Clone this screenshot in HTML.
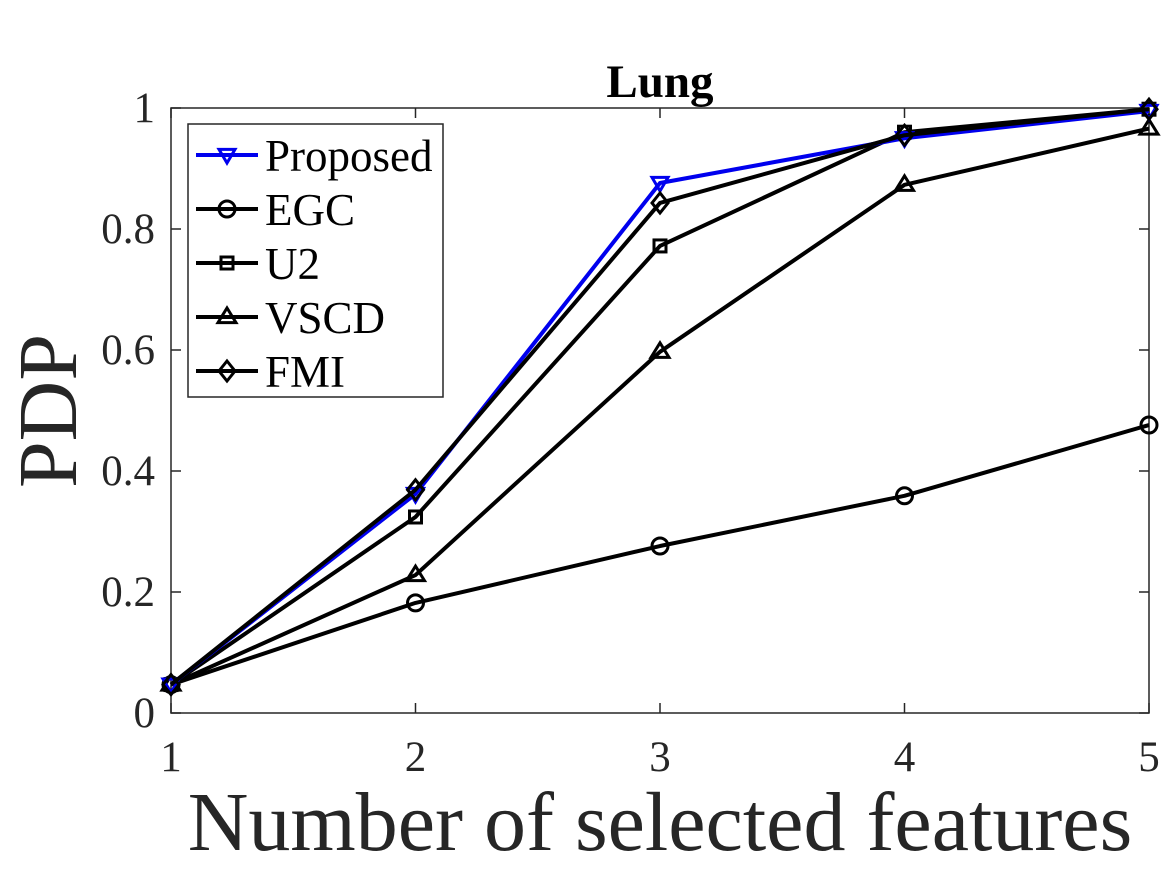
<!DOCTYPE html>
<html><head><meta charset="utf-8"><style>
html,body{margin:0;padding:0;background:#fff;}
svg{display:block;font-family:"Liberation Serif","Times New Roman",serif;}
</style></head><body>
<svg id="chart" width="1167" height="875" viewBox="0 0 1167 875" xmlns="http://www.w3.org/2000/svg">
<rect x="0" y="0" width="1167" height="875" fill="#fff"/>
<g id="axes"></g>
<g id="series"></g>
<g id="legend"></g>
</svg>
<script>
const categories = [1, 2, 3, 4, 5];
const proposed = [0.047, 0.362, 0.876, 0.950, 0.995];
const egc = [0.047, 0.182, 0.276, 0.359, 0.476];
const u2 = [0.047, 0.324, 0.772, 0.960, 0.998];
const vscd = [0.047, 0.228, 0.597, 0.873, 0.966];
const fmi = [0.047, 0.369, 0.843, 0.955, 0.998];
const yTicks = [0, 0.2, 0.4, 0.6, 0.8, 1];
const yTickLabels = ["0", "0.2", "0.4", "0.6", "0.8", "1"];
const xTickLabels = ["1", "2", "3", "4", "5"];
const seriesNames = ["Proposed", "EGC", "U2", "VSCD", "FMI"];

const NS = "http://www.w3.org/2000/svg";
const L = 171, R = 1149, T = 108, B = 713;
function xs(v){ return L + (v - 1) / 4 * (R - L); }
function ys(v){ return B - v * (B - T); }
function mk(tag, attrs, parent){
  const e = document.createElementNS(NS, tag);
  for (const k in attrs) e.setAttribute(k, attrs[k]);
  parent.appendChild(e);
  return e;
}
const axes = document.getElementById('axes');
const box = mk('rect', {x:L, y:T, width:R-L, height:B-T, fill:'none', stroke:'#262626', 'stroke-width':1.5}, axes);



yTicks.forEach((v, i) => {
  const y = ys(v);
  const t1 = mk('line', {x1:L, x2:L+10, y1:y, y2:y, stroke:'#262626', 'stroke-width':1.5}, axes);
  
  
  const t2 = mk('line', {x1:R, x2:R-10, y1:y, y2:y, stroke:'#262626', 'stroke-width':1.5}, axes);
  
  
  const lb = mk('text', {x:L-16, y:y+14, 'text-anchor':'end', 'font-size':43, fill:'#262626'}, axes);
  lb.textContent = yTickLabels[i];
  
  
});
categories.forEach((c, i) => {
  const x = xs(c);
  const t1 = mk('line', {x1:x, x2:x, y1:B, y2:B-10, stroke:'#262626', 'stroke-width':1.5}, axes);
  
  
  const t2 = mk('line', {x1:x, x2:x, y1:T, y2:T+10, stroke:'#262626', 'stroke-width':1.5}, axes);
  
  
  const lb = mk('text', {x:x, y:B+58, 'text-anchor':'middle', 'font-size':43, fill:'#262626'}, axes);
  lb.textContent = xTickLabels[i];
  
  
});
const title = mk('text', {x:(L+R)/2, y:97, 'text-anchor':'middle', 'font-size':47, 'font-weight':'bold', fill:'#000'}, axes);
title.textContent = 'Lung';


const xl = mk('text', {x:(L+R)/2, y:850, 'text-anchor':'middle', 'font-size':84, fill:'#262626'}, axes);
xl.textContent = 'Number of selected features';


const yl = mk('text', {x:0, y:0, 'text-anchor':'middle', 'font-size':84, fill:'#262626', transform:'translate(76,411) rotate(-90)'}, axes);
yl.textContent = 'PDP';



function marker(type, x, y, color, parent){
  const s = 8;
  const common = {fill:'none', stroke:color, 'stroke-width':3};
  let e;
  if (type === 'tri-down') e = mk('polygon', Object.assign({points:`${x-s},${y-s*0.7} ${x+s},${y-s*0.7} ${x},${y+s}`}, common), parent);
  else if (type === 'circle') e = mk('circle', Object.assign({cx:x, cy:y, r:s}, common), parent);
  else if (type === 'square') e = mk('rect', Object.assign({x:x-6, y:y-6, width:12, height:12}, common), parent);
  else if (type === 'tri-up') e = mk('polygon', Object.assign({points:`${x-s-1},${y+s*0.7} ${x+s+1},${y+s*0.7} ${x},${y-s-1}`}, common), parent);
  else e = mk('polygon', Object.assign({points:`${x},${y-s-2} ${x+s},${y} ${x},${y+s+2} ${x-s},${y}`}, common), parent);
  return e;
}
const series = [
  {name:'egc', data:egc, color:'#000', m:'circle'},
  {name:'vscd', data:vscd, color:'#000', m:'tri-up'},
  {name:'u2', data:u2, color:'#000', m:'square'},
  {name:'proposed', data:proposed, color:'#0000ee', m:'tri-down'},
  {name:'fmi', data:fmi, color:'#000', m:'diamond'}
];
const sg = document.getElementById('series');
series.forEach(s => {
  const g = mk('g', {}, sg);
  
  
  const pts = s.data.map((v, i) => xs(categories[i]) + ',' + ys(v)).join(' ');
  const pl = mk('polyline', {points:pts, fill:'none', stroke:s.color, 'stroke-width':4, 'stroke-linejoin':'round'}, g);
  
  
  s.data.forEach((v, i) => {
    const m = marker(s.m, xs(categories[i]), ys(v), s.color, g);
    
    
  });
});

const lg = document.getElementById('legend');
const lbox = mk('rect', {x:188, y:124, width:255, height:273, fill:'#fff', stroke:'#262626', 'stroke-width':1.5}, lg);


const legendStyle = [
  {color:'#0000ee', m:'tri-down'}, {color:'#000', m:'circle'}, {color:'#000', m:'square'},
  {color:'#000', m:'tri-up'}, {color:'#000', m:'diamond'}
];
seriesNames.forEach((n, i) => {
  const y = 155 + i * 54;
  const g = mk('g', {}, lg);
  
  
  mk('line', {x1:196, x2:258, y1:y, y2:y, stroke:legendStyle[i].color, 'stroke-width':4}, g);
  marker(legendStyle[i].m, 227, y, legendStyle[i].color, g);
  const t = mk('text', {x:265, y:y+16, 'font-size':45, fill:'#000'}, g);
  t.textContent = n;
  
  
});
</script>
</body></html>
